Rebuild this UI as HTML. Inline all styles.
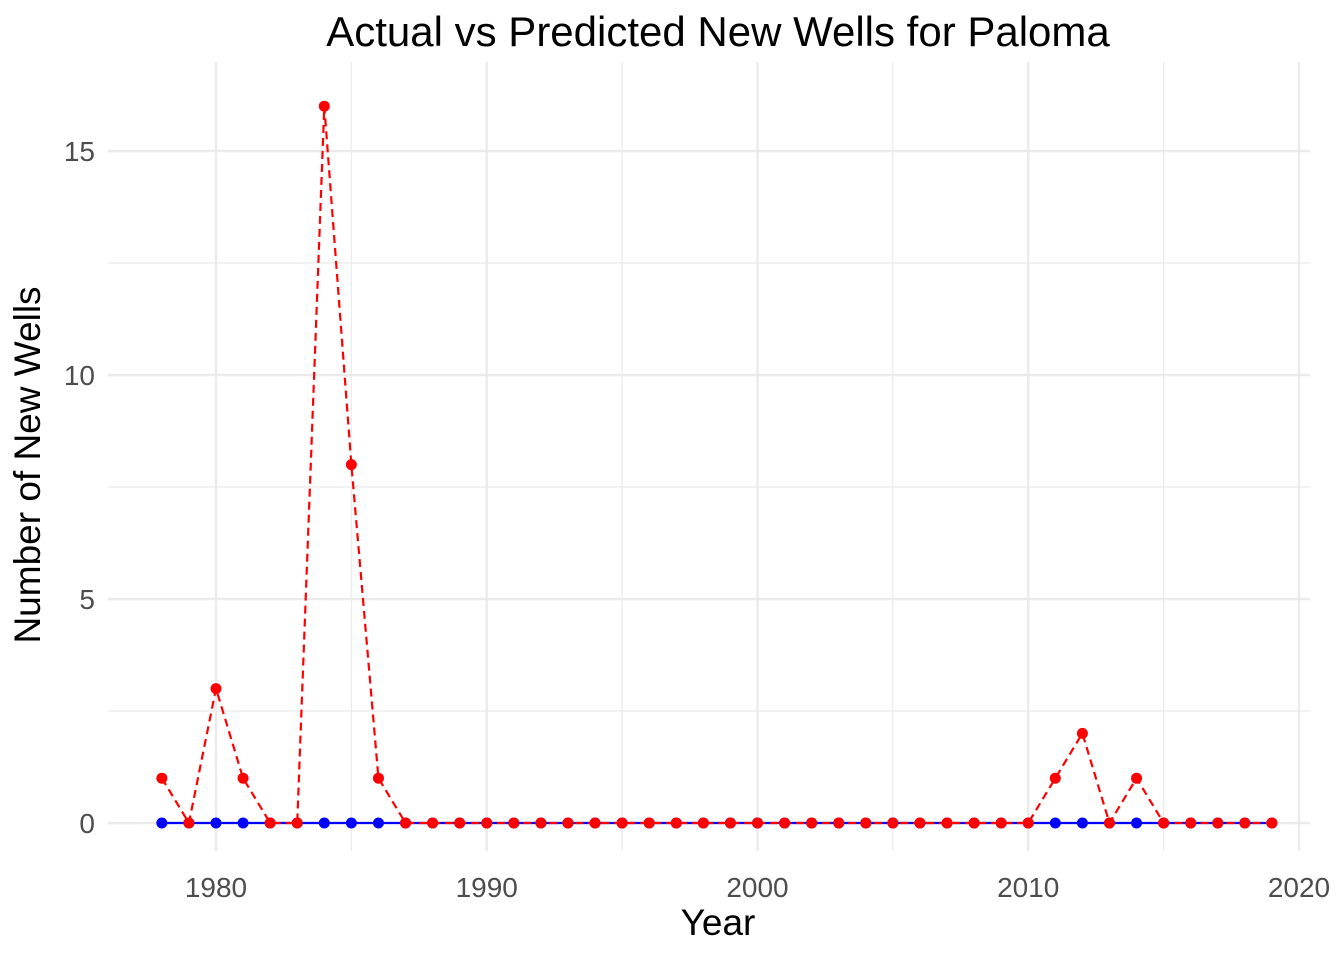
<!DOCTYPE html>
<html><head><meta charset="utf-8"><style>
html,body{margin:0;padding:0;background:#fff;}
svg{display:block;font-family:"Liberation Sans",sans-serif;}
</style></head><body>
<svg id="chart" width="1344" height="960" viewBox="0 0 1344 960">
<text x="718" y="46" text-anchor="middle" font-size="42" fill="#000">Actual vs Predicted New Wells for Paloma</text>
<g id="grid"></g>
<g id="series"></g>
<g id="axes"></g>
<text x="718" y="935" text-anchor="middle" font-size="37" fill="#000">Year</text>
<text transform="translate(40,465) rotate(-90)" text-anchor="middle" font-size="37" fill="#000">Number of New Wells</text>
</svg>
<script>
const years = [1978,1979,1980,1981,1982,1983,1984,1985,1986,1987,1988,1989,1990,1991,1992,1993,1994,1995,1996,1997,1998,1999,2000,2001,2002,2003,2004,2005,2006,2007,2008,2009,2010,2011,2012,2013,2014,2015,2016,2017,2018,2019];
const actual = [1,0,3,1,0,0,16,8,1,0,0,0,0,0,0,0,0,0,0,0,0,0,0,0,0,0,0,0,0,0,0,0,0,1,2,0,1,0,0,0,0,0];
const predicted = [0,0,0,0,0,0,0,0,0,0,0,0,0,0,0,0,0,0,0,0,0,0,0,0,0,0,0,0,0,0,0,0,0,0,0,0,0,0,0,0,0,0];
const xTicks = [1980,1990,2000,2010,2020];
const xMinor = [1985,1995,2005,2015];
const yTicks = [0,5,10,15];
const yMinor = [2.5,7.5,12.5];

const NS="http://www.w3.org/2000/svg";
const X = v => 216 + (v-1980)*(1299-216)/40;
const Y = v => 823 - v*(823-151)/15;
const L=108, R=1310, T=62, B=851;
function mk(tag, attrs, parent){const e=document.createElementNS(NS,tag);for(const k in attrs)e.setAttribute(k,attrs[k]);parent.appendChild(e);return e;}
const grid=document.getElementById('grid'), axes=document.getElementById('axes'), series=document.getElementById('series');
yMinor.forEach(v=>{const l=mk('line',{x1:L,x2:R,y1:Y(v),y2:Y(v),stroke:'#ebebeb','stroke-width':1.2},grid);

});
xMinor.forEach(v=>{const l=mk('line',{x1:X(v),x2:X(v),y1:T,y2:B,stroke:'#ebebeb','stroke-width':1.2},grid);

});
yTicks.forEach(v=>{const l=mk('line',{x1:L,x2:R,y1:Y(v),y2:Y(v),stroke:'#ebebeb','stroke-width':2.4},grid);


const t=mk('text',{x:95,y:Y(v)+10,'text-anchor':'end','font-size':28,fill:'#4d4d4d'},axes);t.textContent=v;

});
xTicks.forEach(v=>{const l=mk('line',{x1:X(v),x2:X(v),y1:T,y2:B,stroke:'#ebebeb','stroke-width':2.4},grid);


const t=mk('text',{x:X(v),y:897,'text-anchor':'middle','font-size':28,fill:'#4d4d4d'},axes);t.textContent=v;

});
const pp=years.map((y,i)=>X(y)+','+Y(predicted[i])).join(' ');
const pl=mk('polyline',{points:pp,fill:'none',stroke:'#0000ff','stroke-width':2.2},series);


years.forEach((y,i)=>{const c=mk('circle',{cx:X(y),cy:Y(predicted[i]),r:5.5,fill:'#0000ff'},series);

});
const ap=years.map((y,i)=>X(y)+','+Y(actual[i])).join(' ');
const al=mk('polyline',{points:ap,fill:'none',stroke:'#ff0000','stroke-width':2.2,'stroke-dasharray':'8,5'},series);


years.forEach((y,i)=>{const c=mk('circle',{cx:X(y),cy:Y(actual[i]),r:5.5,fill:'#ff0000'},series);

});
</script>
</body></html>
